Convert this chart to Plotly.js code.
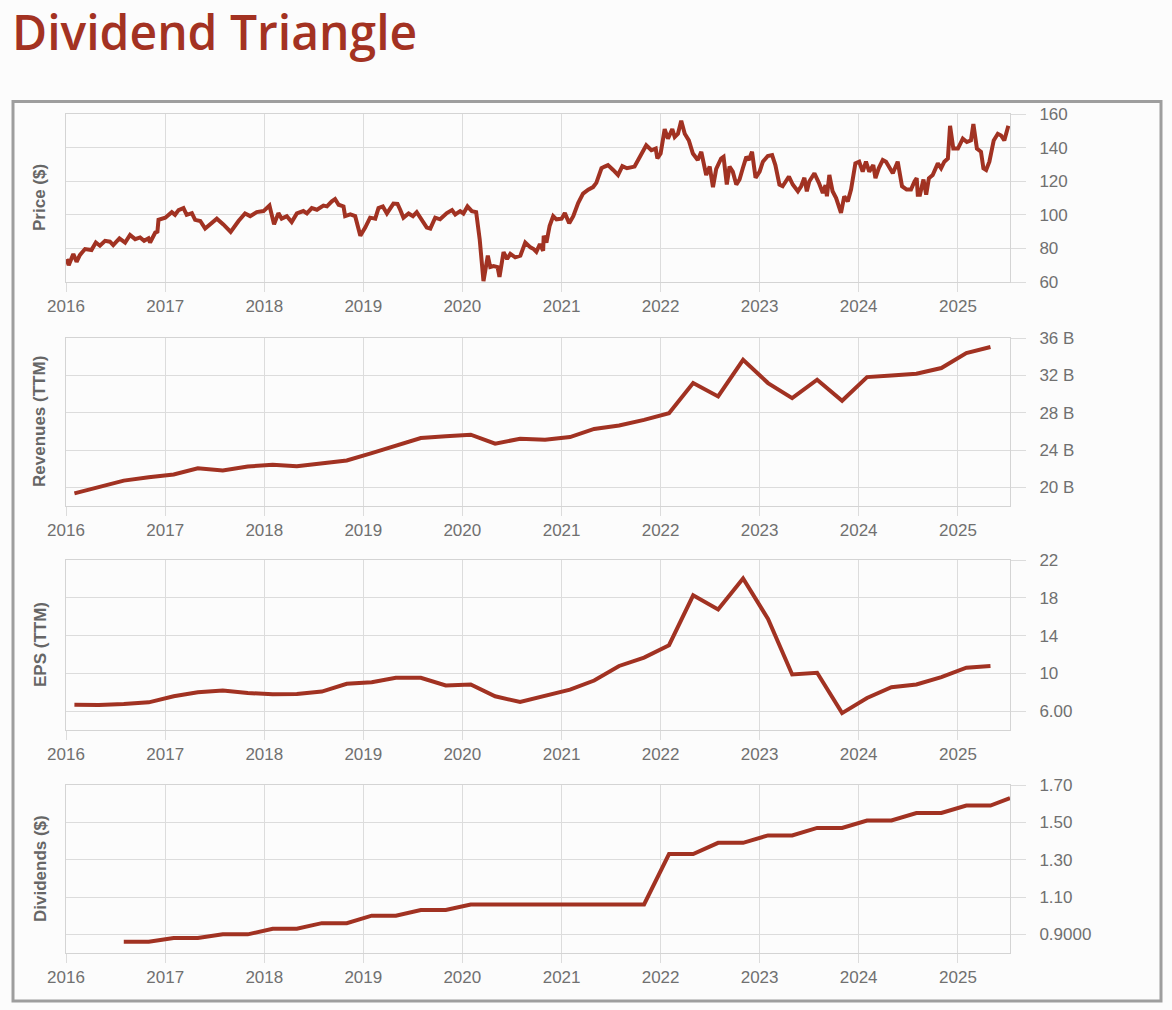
<!DOCTYPE html>
<html>
<head>
<meta charset="utf-8">
<script src="https://cdn.plot.ly/plotly-3.0.1.min.js"></script>
<style>
html,body{margin:0;padding:0;background:#fcfcfc;}
#chart{width:1172px;height:1010px;}
</style>
</head>
<body>
<div id="chart"></div>
<script>
// ---------- DATA ----------
// Price ($): decimal-year sample positions and prices
const priceYears = [
 2016.007,2016.030,2016.074,2016.108,2016.141,2016.192,2016.259,2016.303,2016.343,2016.394,2016.444,2016.478,2016.539,2016.596,2016.646,2016.697,2016.747,2016.788,2016.832,2016.848,2016.899,2016.923,2016.933,
 2017.000,2017.067,2017.101,2017.135,2017.185,2017.219,2017.269,2017.303,2017.354,2017.404,2017.455,2017.522,2017.589,2017.663,2017.741,2017.808,2017.859,2017.926,2017.993,
 2018.054,2018.101,2018.145,2018.178,2018.229,2018.279,2018.330,2018.397,2018.431,2018.481,2018.532,2018.599,2018.633,2018.684,2018.717,2018.751,2018.801,2018.818,2018.869,2018.919,2018.970,
 2019.020,2019.071,2019.121,2019.155,2019.199,2019.239,2019.306,2019.347,2019.374,2019.407,2019.458,2019.502,2019.542,2019.593,2019.643,2019.677,2019.727,2019.778,2019.845,2019.896,2019.929,2019.980,
 2020.013,2020.054,2020.098,2020.141,2020.175,2020.215,2020.259,2020.283,2020.316,2020.357,2020.377,2020.418,2020.451,2020.485,2020.535,2020.586,2020.636,2020.687,2020.721,2020.748,2020.782,2020.815,2020.822,2020.849,2020.882,2020.916,2020.950,
 2021.000,2021.034,2021.077,2021.118,2021.168,2021.218,2021.269,2021.319,2021.353,2021.403,2021.437,2021.471,2021.521,2021.571,2021.615,2021.662,2021.739,2021.773,2021.817,2021.857,2021.908,2021.951,2021.968,
 2022.002,2022.042,2022.076,2022.119,2022.143,2022.176,2022.210,2022.244,2022.287,2022.328,2022.378,2022.412,2022.462,2022.496,2022.529,2022.563,2022.613,2022.637,2022.671,2022.697,2022.731,2022.765,2022.798,2022.832,2022.866,2022.892,2022.926,2022.960,
 2023.000,2023.034,2023.084,2023.128,2023.161,2023.202,2023.235,2023.296,2023.336,2023.387,2023.420,2023.454,2023.477,2023.504,2023.555,2023.598,2023.639,2023.666,2023.682,2023.706,2023.739,2023.773,2023.824,2023.857,2023.891,2023.924,2023.968,
 2024.008,2024.042,2024.076,2024.109,2024.150,2024.170,2024.203,2024.244,2024.277,2024.311,2024.345,2024.395,2024.439,2024.486,2024.529,2024.563,2024.587,2024.597,2024.620,2024.654,2024.681,2024.708,2024.748,2024.798,2024.832,2024.866,2024.899,2024.923,2024.956,
 2025.000,2025.050,2025.091,2025.134,2025.158,2025.192,2025.235,2025.259,2025.286,2025.319,2025.363,2025.403,2025.437,2025.471,2025.511
];
const priceValues = [
 73.7,70,76.7,72,76,79.6,79,83.5,81.6,84.5,84,82,86,83.5,88,85.5,86.5,84.5,86,83.5,89.4,90,97,
 98.3,101.6,100,102.8,104,100,101,97,96.3,91.8,94.3,97.7,94.3,89.8,96.3,100.8,99.2,101.6,102.2,
 105.5,94.3,101,97.7,99.2,95.7,100.8,102.2,100.8,104,103,105.5,105,108,109.4,106,105,99.2,100.2,99.2,87.5,
 92.4,98.3,97.7,104,105,100.8,106.7,106.5,103,98.3,100.8,99.2,101.6,97.3,92.4,91.8,98.3,97.3,101,102.8,100.2,102.2,
 100.8,105,102.2,101.6,85.5,60.5,75.7,68.9,69.5,68.9,63,77.8,73.7,76.7,74.7,75.7,83.5,80.6,79.6,78,82.5,78.6,87.5,83.5,93.5,99.2,97.3,
 97.7,101,95,99.2,107,112.6,115,116.5,119,127.7,128.7,129.6,126.7,123.7,129,127.7,128.7,132.6,136.5,141.4,138.4,139.4,133.5,
 136.5,151,145.3,151,146.3,148.2,156,148.2,144.3,136.5,132.6,137.5,123.7,128.7,116.5,127.3,133.5,134.5,118,128.7,125.7,118,121,127.7,134.5,132.6,137.5,122,
 125.7,131.6,135,135.5,129.6,118,117,122.8,118,114,117,122,114,119.8,124.7,119.2,113,117.6,111,123.7,114,110,101.2,111,108,115,130.6,
 131.6,125.7,131.6,125.7,129.6,121.8,127.7,132.6,131.6,127.7,124.7,131.6,117,115,115,119.8,121.8,112,112,121,112,121.8,123.7,130.6,127.7,131.6,133.5,153,139.4,
 139.4,145.3,143.3,144.3,154,139.4,137.5,127.7,126.7,131.6,144.3,148.2,147.2,144.3,153
];

// Quarterly fundamentals (TTM)
const fundamentalDates = [
 '2016-02-01','2016-05-01','2016-08-01','2016-11-01',
 '2017-02-01','2017-05-01','2017-08-01','2017-11-01',
 '2018-02-01','2018-05-01','2018-08-01','2018-11-01',
 '2019-02-01','2019-05-01','2019-08-01','2019-11-01',
 '2020-02-01','2020-05-01','2020-08-01','2020-11-01',
 '2021-02-01','2021-05-01','2021-08-01','2021-11-01',
 '2022-02-01','2022-05-01','2022-08-01','2022-11-01',
 '2023-02-01','2023-05-01','2023-08-01','2023-11-01',
 '2024-02-01','2024-05-01','2024-08-01','2024-11-01',
 '2025-02-01','2025-05-01'
];
// Revenues in billions of $
const revenuesB = [
 19.35,20.0,20.72,21.08,
 21.37,22.05,21.8,22.23,
 22.41,22.27,22.62,22.88,
 23.67,24.49,25.28,25.46,
 25.64,24.67,25.21,25.1,
 25.39,26.26,26.62,27.23,
 27.95,31.17,29.74,33.67,
 31.17,29.56,31.53,29.27,
 31.81,31.99,32.17,32.78,
 34.39,35.03
];
const epsValues = [
 6.68,6.64,6.75,6.93,
 7.57,8.0,8.17,7.92,
 7.78,7.82,8.07,8.89,
 9.06,9.53,9.53,8.71,
 8.82,7.57,6.96,7.64,
 8.28,9.24,10.78,11.67,
 12.98,18.26,16.76,20.04,
 15.76,9.88,10.06,5.79,
 7.39,8.53,8.82,9.6,
 10.6,10.78
];

// Dividends ($, annual)
const dividendDates = [
 '2016-08-01','2016-11-01',
 '2017-02-01','2017-05-01','2017-08-01','2017-11-01',
 '2018-02-01','2018-05-01','2018-08-01','2018-11-01',
 '2019-02-01','2019-05-01','2019-08-01','2019-11-01',
 '2020-02-01','2020-05-01','2020-08-01','2020-11-01',
 '2021-02-01','2021-05-01','2021-08-01','2021-11-01',
 '2022-02-01','2022-05-01','2022-08-01','2022-11-01',
 '2023-02-01','2023-05-01','2023-08-01','2023-11-01',
 '2024-02-01','2024-05-01','2024-08-01','2024-11-01',
 '2025-02-01','2025-05-01','2025-07-12'
];
const dividendValues = [
 0.86,0.86,
 0.88,0.88,0.90,0.90,
 0.93,0.93,0.96,0.96,
 1.00,1.00,1.03,1.03,
 1.06,1.06,1.06,1.06,
 1.06,1.06,1.06,1.06,
 1.33,1.33,1.39,1.39,
 1.43,1.43,1.47,1.47,
 1.51,1.51,1.55,1.55,
 1.59,1.59,1.63
];

// Tick labels
const priceTickVals = [60,80,100,120,140,160];
const priceTickText = ['60','80','100','120','140','160'];
const revTickVals = [20,24,28,32,36];
const revTickText = ['20 B','24 B','28 B','32 B','36 B'];
const epsTickVals = [6,10,14,18,22];
const epsTickText = ['6.00','10','14','18','22'];
const divTickVals = [0.9,1.1,1.3,1.5,1.7];
const divTickText = ['0.9000','1.10','1.30','1.50','1.70'];
const panelTitles = ['Price ($)','Revenues (TTM)','EPS (TTM)','Dividends ($)'];
const chartTitle = 'Dividend Triangle';

// ---------- HELPERS ----------
function yearToDate(y){
  const yr = Math.floor(y);
  const s = Date.UTC(yr,0,1), e = Date.UTC(yr+1,0,1);
  return new Date(s + (y-yr)*(e-s)).toISOString().slice(0,10);
}
const priceDates = priceYears.map(yearToDate);

const LINE = '#A13222';
const GRID = '#dcdcdc';
const AXL = '#d4d4d4';
const TICKFONT = {family:'Liberation Sans, Arial, sans-serif', size:17, color:'#707070'};
const XRANGE = ['2016-01-01','2025-07-12'];

function xAxis(anchor){
  return {
    anchor: anchor, type:'date', range: XRANGE,
    tick0:'2016-01-01', dtick:'M12', tickformat:'%Y',
    ticks:'outside', ticklen:9, tickcolor:GRID, tickwidth:1,
    showgrid:true, gridcolor:GRID, gridwidth:1,
    showline:true, linecolor:AXL, linewidth:1, mirror:true,
    zeroline:false, tickfont:TICKFONT, fixedrange:true
  };
}
function yAxis(domain, range, vals, text){
  return {
    domain: domain, range: range, side:'right',
    tickmode:'array', tickvals: vals, ticktext: text,
    ticks:'outside', ticklen:15, tickcolor:GRID, tickwidth:1,
    ticklabelstandoff: 10,
    showgrid:true, gridcolor:GRID, gridwidth:1,
    showline:true, linecolor:AXL, linewidth:1, mirror:true,
    zeroline:false, tickfont:TICKFONT, fixedrange:true
  };
}

const traces = [
  {x: priceDates, y: priceValues, xaxis:'x', yaxis:'y', type:'scatter', mode:'lines',
   line:{color:LINE, width:4}, name:panelTitles[0]},
  {x: fundamentalDates, y: revenuesB, xaxis:'x2', yaxis:'y2', type:'scatter', mode:'lines',
   line:{color:LINE, width:4}, name:panelTitles[1]},
  {x: fundamentalDates, y: epsValues, xaxis:'x3', yaxis:'y3', type:'scatter', mode:'lines',
   line:{color:LINE, width:4}, name:panelTitles[2]},
  {x: dividendDates, y: dividendValues, xaxis:'x4', yaxis:'y4', type:'scatter', mode:'lines',
   line:{color:LINE, width:4}, name:panelTitles[3]}
];

// pixel geometry helpers (plot area: x 66..1010, y 114..953)
const PT = 114, PB = 953, PH = PB - PT;
const py = p => (PB - p) / PH;
const domains = [
  [py(282), py(114)],
  [py(506), py(338)],
  [py(730), py(560)],
  [py(953), py(785)]
];

const annotations = panelTitles.map((t,i)=>({
  text: t, xref:'paper', yref:'paper',
  x: (40-66)/944, y: (domains[i][0]+domains[i][1])/2,
  xanchor:'center', yanchor:'middle', textangle:-90, showarrow:false,
  font:{family:'Liberation Sans, Arial, sans-serif', size:17, color:'#666666', weight:700}
}));

const layout = {
  width:1172, height:1010,
  margin:{l:66, r:162, t:PT, b:1010-PB, pad:0},
  paper_bgcolor:'#fcfcfc', plot_bgcolor:'#fcfcfc',
  showlegend:false,
  title:{text: chartTitle, xref:'container', yref:'container', x:12/1172, xanchor:'left',
         y:1-33/1010, yanchor:'middle',
         font:{family:'Open Sans, Noto Sans, sans-serif', size:48, color:'#A33222', weight:600}},
  xaxis: xAxis('y'), xaxis2: xAxis('y2'), xaxis3: xAxis('y3'), xaxis4: xAxis('y4'),
  yaxis: yAxis(domains[0], [60,160], priceTickVals, priceTickText),
  yaxis2: yAxis(domains[1], [18,36], revTickVals, revTickText),
  yaxis3: yAxis(domains[2], [4,22], epsTickVals, epsTickText),
  yaxis4: yAxis(domains[3], [0.8,1.7], divTickVals, divTickText),
  annotations: annotations,
  shapes:[{type:'rect', xref:'paper', yref:'paper', layer:'above',
    x0:(13-66)/944, x1:(1161-66)/944, y0:py(1001), y1:py(101.5),
    line:{color:'#9e9e9e', width:3}, fillcolor:'rgba(0,0,0,0)'}]
};

Plotly.newPlot('chart', traces, layout, {displayModeBar:false, staticPlot:true});
</script>
</body>
</html>
